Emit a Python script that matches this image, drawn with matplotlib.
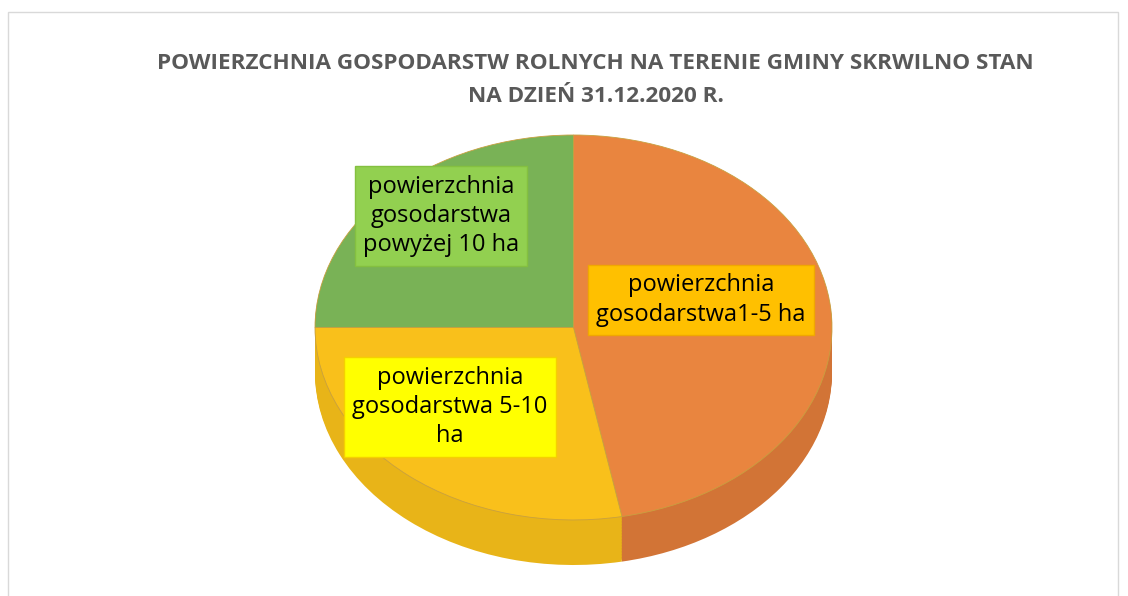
import matplotlib.pyplot as plt
from matplotlib.patches import Rectangle

# dane
labels = ['powierzchnia\ngosodarstwa1-5 ha',
          'powierzchnia\ngosodarstwa 5-10\nha',
          'powierzchnia\ngosodarstwa\npowyżej 10 ha']
shares = [47, 28, 25]
top_colors = ['#E9853F', '#F9C01B', '#79B256']
side_colors = ['#D27436', '#E8B418', '#6A9E4A']
box_colors = ['#FFC000', '#FFFF00', '#92D050']
box_edges = ['#F0A800', '#F5D000', '#84C040']
title = 'POWIERZCHNIA GOSPODARSTW ROLNYCH NA TERENIE GMINY SKRWILNO STAN\nNA DZIEŃ 31.12.2020 R.'

plt.rcParams['font.family'] = ['Open Sans', 'DejaVu Sans']

fig = plt.figure(figsize=(11.28, 5.96), dpi=100)
fig.patches.append(Rectangle((8 / 1128, -0.1), 1110 / 1128, 1.1 - 12 / 596,
                             transform=fig.transFigure, fill=False,
                             edgecolor='#D9D9D9', lw=1))

ax = fig.add_axes([315 / 1128, 31 / 596, 517 / 1128, 430 / 596])
dz = 0.234
steps = 30
for i in range(steps, 0, -1):
    off = dz * i / steps
    ax.pie(shares, colors=side_colors, startangle=90, counterclock=False,
           center=(0, -off), wedgeprops=dict(linewidth=0))
ax.pie(shares, colors=top_colors, startangle=90, counterclock=False,
       center=(0, 0), wedgeprops=dict(linewidth=0.6, edgecolor='#C8A040'))
ax.set_aspect('auto')
ax.set_xlim(-1, 1)
ax.set_ylim(-1 - dz, 1)
ax.axis('off')

# etykiety
label_pos = [(701, 300), (450, 407), (441, 216)]
for lab, (px, py), bc, ec in zip(labels, label_pos, box_colors, box_edges):
    fig.text(px / 1128, 1 - py / 596, lab, ha='center', va='center',
             fontsize=17, color='black', linespacing=1.3,
             bbox=dict(boxstyle='square,pad=0.35', facecolor=bc,
                       edgecolor=ec, lw=1))

fig.text(0.528, 1 - 80 / 596, title, ha='center', va='center',
         fontsize=16.2, fontweight='bold', color='#595959', linespacing=1.8)

fig.savefig('out.png', dpi=100, facecolor='white')
